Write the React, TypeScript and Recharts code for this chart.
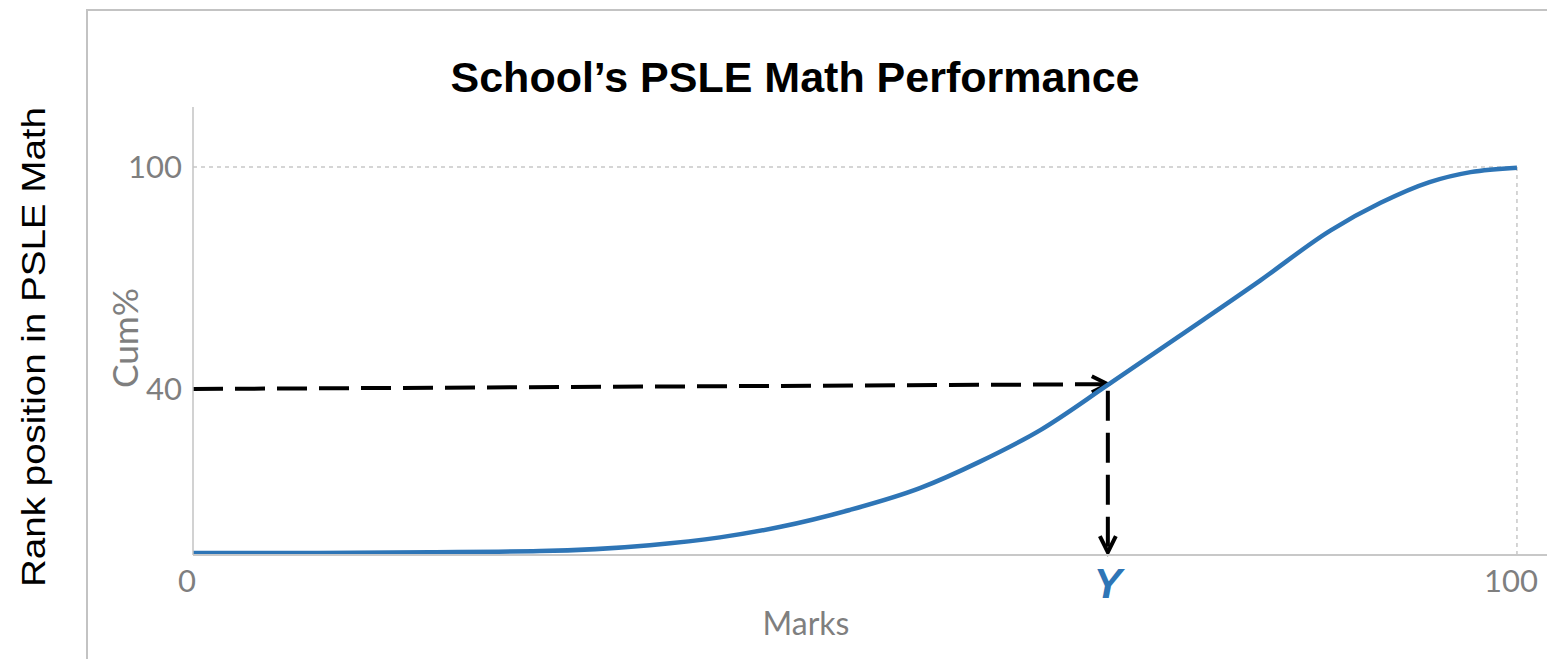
import React from "react";
import { LineChart, Line, XAxis, YAxis, ReferenceLine, Label } from "recharts";

// curve: marks vs cumulative %
const marks = [0, 8.1, 17.9, 26.2, 34.5, 39.8, 44.3, 49.6, 54.9, 59.4, 64.0, 69.1, 74.5, 80.6, 85.9, 89.7, 93.4, 96.5, 100];
const cumPct = [-4.3, -4.3, -4.1, -3.8, -2.2, -0.1, 2.7, 7.3, 13.2, 20.3, 28.9, 41.1, 54.3, 69.3, 82.8, 90.3, 95.9, 98.6, 99.8];

const xTicks = [0, 69.1, 100];
const yTicks = [40, 100];
const markedScore = 69.1; // shown as "Y"
const markedRank = 40;

const BLUE = "#2E75B6";
const GREY = "#7f7f7f";
const NUM_FONT = "Lato, 'Open Sans', sans-serif";
const TITLE_FONT = "'Liberation Sans', Arial, sans-serif";

const data = marks.map((m, i) => ({ mark: m, cum: cumPct[i] }));

// dashed line with an open arrow head at the end
const ArrowLine = (props: any) => {
  const { x1, y1, x2, y2 } = props;
  const a = Math.atan2(y2 - y1, x2 - x1);
  const back = 16;
  const side = 8;
  const bx = x2 - back * Math.cos(a);
  const by = y2 - back * Math.sin(a);
  const px = -Math.sin(a) * side;
  const py = Math.cos(a) * side;
  return (
    <g>
      <line x1={x1} y1={y1} x2={x2} y2={y2} stroke="#000" strokeWidth={4} strokeDasharray="30 12" />
      <polyline
        points={`${bx + px},${by + py} ${x2},${y2} ${bx - px},${by - py}`}
        fill="none"
        stroke="#000"
        strokeWidth={4}
      />
    </g>
  );
};

const XTick = ({ x, y, payload }: any) => {
  if (payload.value === markedScore) {
    return (
      <text x={x} y={y + 43} textAnchor="middle" fill={BLUE} fontSize={42} fontWeight="bold" fontStyle="italic" fontFamily={TITLE_FONT}>
        Y
      </text>
    );
  }
  return (
    <text x={x - 6} y={y + 37} textAnchor="middle" fill={GREY} fontSize={31} fontFamily={NUM_FONT}>
      {payload.value}
    </text>
  );
};

const YTick = ({ x, y, payload }: any) => (
  <text x={x - 11} y={y + 11} textAnchor="end" fill={GREY} fontSize={31} fontFamily={NUM_FONT}>
    {payload.value}
  </text>
);

const rotated = (text: string, dx: number, dy: number, style: any) => (props: any) => {
  const vb = props.viewBox || { x: 113, y: 107, width: 80, height: 448 };
  const cx = vb.x + dx;
  const cy = vb.y + vb.height / 2 + dy;
  return (
    <text x={cx} y={cy} transform={`rotate(-90, ${cx}, ${cy})`} textAnchor="middle" dominantBaseline="central" {...style}>
      {text}
    </text>
  );
};

const MarksLabel = (props: any) => {
  const vb = props.viewBox || { x: 193, y: 555, width: 1354, height: 60 };
  return (
    <text x={vb.x + 613} y={vb.y + 80} textAnchor="middle" fill={GREY} fontSize={32} fontFamily={NUM_FONT}>
      Marks
    </text>
  );
};

export default function App() {
  return (
    <div style={{ position: "absolute", left: 0, top: 0, width: 1547, height: 659, overflow: "hidden", background: "#fff" }}>
      {/* outer frame */}
      <div
        style={{
          position: "absolute",
          left: 86,
          top: 9,
          width: 2000,
          height: 2000,
          borderLeft: "2px solid #c3c3c3",
          borderTop: "2px solid #c3c3c3",
        }}
      />
      <div style={{ position: "absolute", left: 0, top: 0 }}>
        <LineChart width={1547} height={659} data={data} margin={{ top: 107, right: 0, bottom: 44, left: 113 }}>
          <XAxis
            type="number"
            dataKey="mark"
            domain={[0, 102.27]}
            allowDataOverflow
            ticks={xTicks}
            tick={<XTick />}
            tickLine={false}
            tickSize={0}
            tickMargin={0}
            height={60}
            axisLine={{ stroke: "#c8c8c8", strokeWidth: 2 }}
            interval={0}
          >
            <Label content={<MarksLabel />} />
          </XAxis>
          <YAxis
            type="number"
            domain={[-4.86, 116.2]}
            allowDataOverflow
            ticks={yTicks}
            tick={<YTick />}
            tickLine={false}
            tickSize={0}
            tickMargin={0}
            width={80}
            axisLine={{ stroke: "#c3c3c3", strokeWidth: 1.5 }}
            interval={0}
          >
            <Label
              content={rotated("Cum%", 11, 7, {
                fill: GREY,
                fontSize: 34,
                fontFamily: NUM_FONT,
                textLength: 100,
                lengthAdjust: "spacingAndGlyphs",
              })}
            />
            <Label
              content={rotated("Rank position in PSLE Math", -80, 16, {
                fill: "#000",
                fontSize: 34,
                fontFamily: TITLE_FONT,
                textLength: 480,
                lengthAdjust: "spacingAndGlyphs",
              })}
            />
          </YAxis>
          <ReferenceLine
            segment={[{ x: 0, y: 100 }, { x: 100, y: 100 }]}
            stroke="#c8c8c8"
            strokeWidth={1.5}
            strokeDasharray="4 4"
          />
          <ReferenceLine
            segment={[{ x: 100, y: 100 }, { x: 100, y: -4.86 }]}
            stroke="#c8c8c8"
            strokeWidth={1.5}
            strokeDasharray="4 4"
          />
          <ReferenceLine segment={[{ x: 0, y: markedRank }, { x: markedScore, y: 41.3 }]} shape={ArrowLine} />
          <ReferenceLine segment={[{ x: markedScore, y: 39.5 }, { x: markedScore, y: -4.1 }]} shape={ArrowLine} />
          <Line type="monotone" dataKey="cum" stroke={BLUE} strokeWidth={4.5} dot={false} isAnimationActive={false} />
        </LineChart>
      </div>
      <div
        style={{
          position: "absolute",
          left: 295,
          top: 56,
          width: 1000,
          textAlign: "center",
          fontFamily: TITLE_FONT,
          fontWeight: "bold",
          fontSize: 43,
          lineHeight: "43px",
          color: "#000",
        }}
      >
        School’s PSLE Math Performance
      </div>
    </div>
  );
}
